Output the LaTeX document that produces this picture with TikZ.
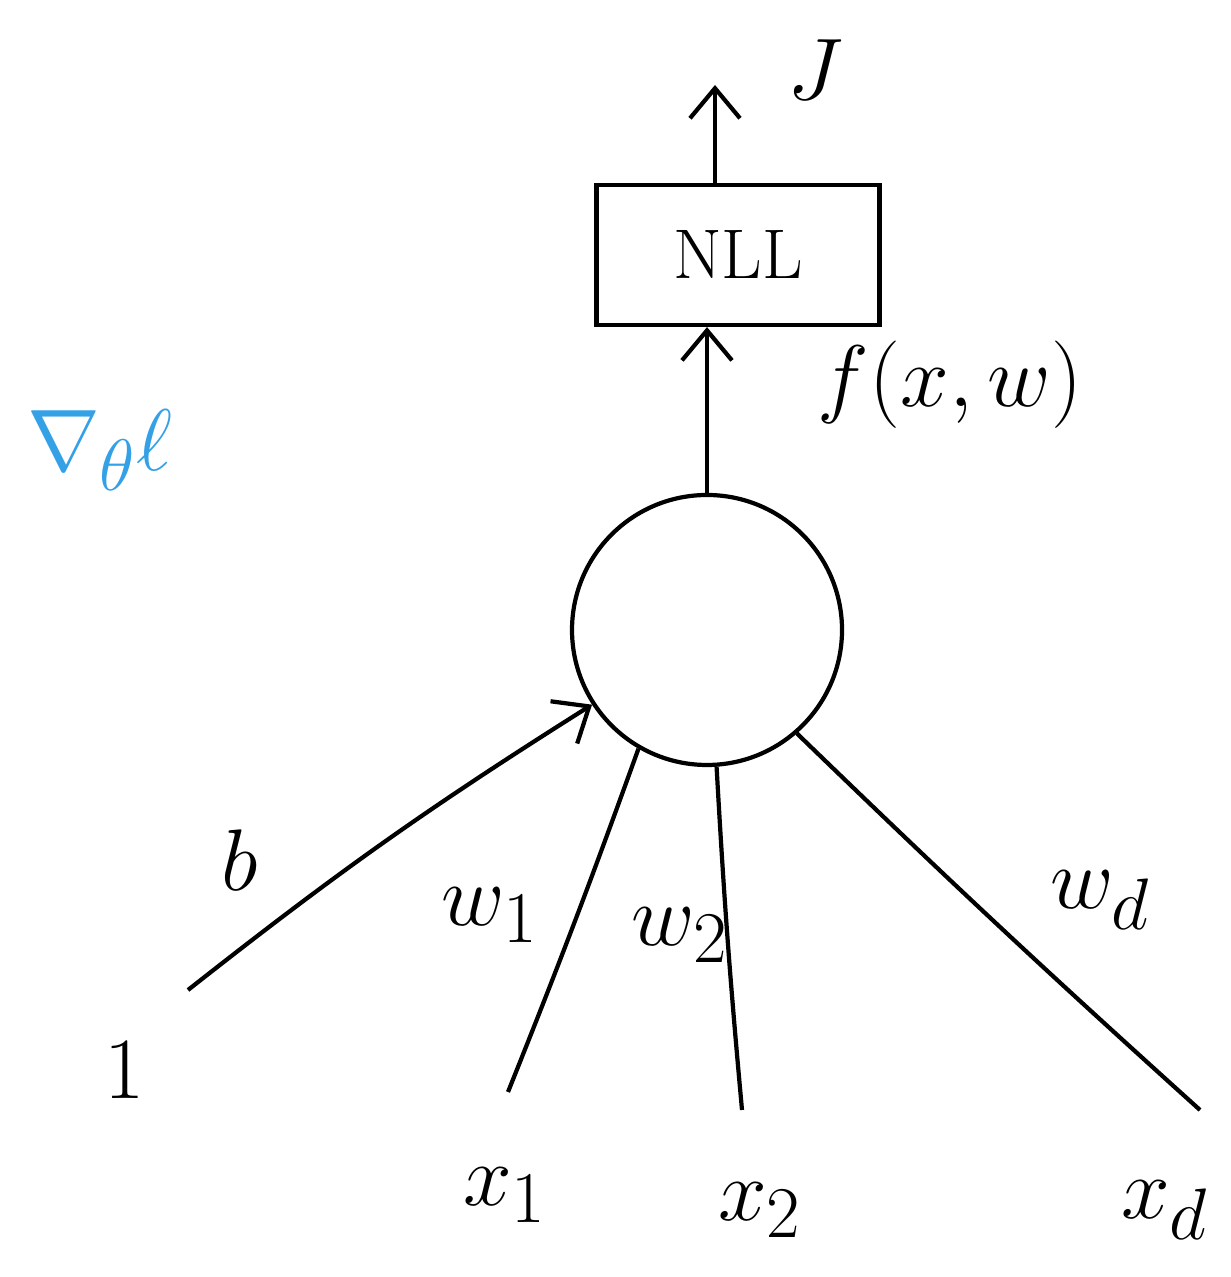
\documentclass[tikz,border=0pt]{standalone}
\usepackage{tikz}
\usepackage{mathtools}
\usetikzlibrary{positioning, arrows.meta, calc}

\definecolor{gradblue}{RGB}{52,160,230}

\begin{document}
\begin{tikzpicture}[line width=1.2pt, >={Straight Barb[length=3mm, width=5mm]},
	lbl/.style={font=\fontsize{28}{32}\selectfont, inner sep=0pt}]
	\useasboundingbox (0,0) rectangle (12.3,12.77);
	% loss box and neuron
	\node[draw, minimum width=2.83cm, minimum height=1.4cm, font=\fontsize{20}{24}\selectfont] (nll) at (7.38,10.22) {NLL};
	\node[draw, circle, minimum size=2.7cm] (neuron) at (7.07,6.47) {};
	\coordinate (jtop) at (7.15,11.92);
	\draw[->] (nll.north -| jtop) -- (jtop);
	\node[lbl] (J) at (8.15,12.07) {$J$};
	\draw[->] (neuron.north) -- (neuron.north |- nll.south);
	\node[lbl] (fxw) at (9.5,8.92) {$f(x,w)$};
	\node[lbl, gradblue] (grad) at (1.0,8.27) {$\nabla_{\theta}\ell$};
	% inputs
	\node[lbl] (one) at (1.25,2.07) {$1$};
	\node[lbl] (x1) at (5.05,0.82) {$x_1$};
	\node[lbl] (x2) at (7.6,0.67) {$x_2$};
	\node[lbl] (xd) at (11.65,0.67) {$x_d$};
	\coordinate (bstart) at (1.88,2.87);
	\coordinate (w1start) at (5.08,1.85);
	\coordinate (w2start) at (7.42,1.67);
	\coordinate (wdstart) at (12.0,1.67);
	\draw[->] (bstart) to[bend left=3] (neuron.213);
	\draw (w1start) to[bend right=1] (neuron.240);
	\draw (w2start) to[bend left=1] (neuron.274);
	\draw (wdstart) to[bend left=1] (neuron.311);
	\node[lbl] (b) at (2.4,4.17) {$b$};
	\node[lbl] (w1) at (4.9,3.62) {$w_1$};
	\node[lbl] (w2) at (6.8,3.42) {$w_2$};
	\node[lbl] (wd) at (11.0,3.77) {$w_d$};
\end{tikzpicture}
\end{document}
